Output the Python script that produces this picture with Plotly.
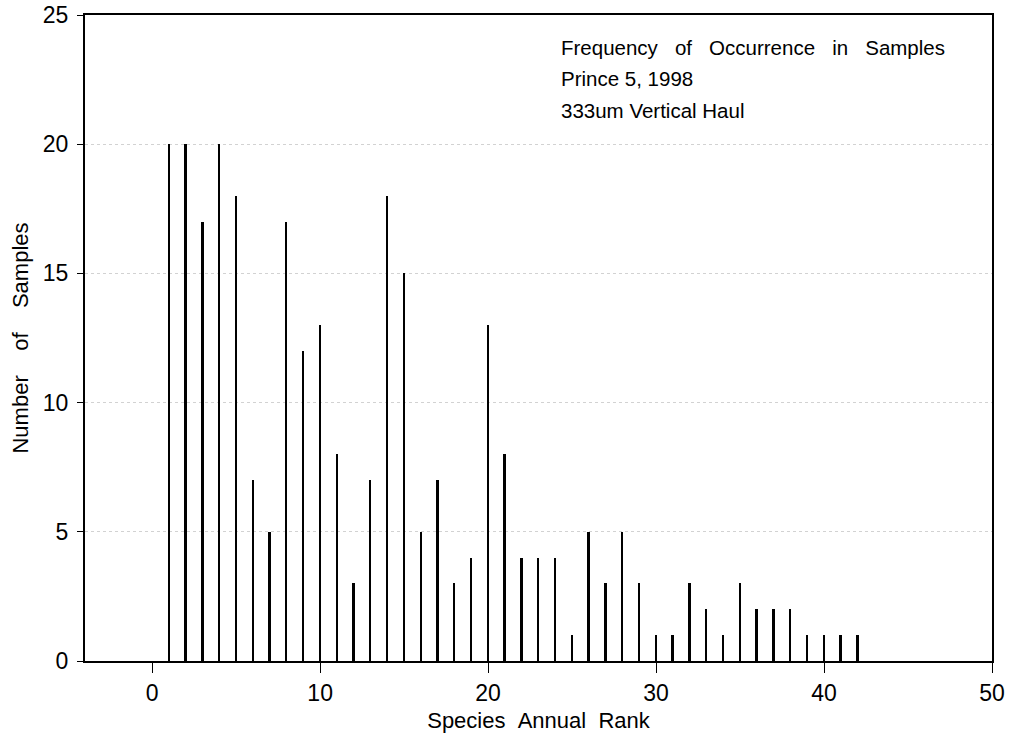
import plotly.graph_objects as go

# Species annual rank and the number of samples each species occurred in
ranks = list(range(1, 43))
samples = [20, 20, 17, 20, 18, 7, 5, 17, 12, 13,
           8, 3, 7, 18, 15, 5, 7, 3, 4, 13,
           8, 4, 4, 4, 1, 5, 3, 5, 3, 1,
           1, 3, 2, 1, 3, 2, 2, 2, 1, 1,
           1, 1]

x_ticks = [0, 10, 20, 30, 40, 50]
y_ticks = [0, 5, 10, 15, 20, 25]

SP = "\u00a0\u00a0\u00a0"
note_lines = [
    SP.join(["Frequency", "of", "Occurrence", "in", "Samples"]),
    "Prince 5, 1998",
    "333um Vertical Haul",
]

FONT = "Liberation Sans, Arial, sans-serif"

fig = go.Figure()
fig.add_trace(go.Bar(
    x=ranks, y=samples, width=0.11,
    marker=dict(color="black", line=dict(width=0)),
    showlegend=False,
))

fig.update_layout(
    width=1009, height=753,
    margin=dict(l=85, r=17, t=15, b=92, autoexpand=False),
    paper_bgcolor="white", plot_bgcolor="white",
    font=dict(family=FONT, size=22, color="black"),
    bargap=0,
    annotations=[
        dict(x=0.523, y=0.95 - i * 0.049, xref="paper", yref="paper",
             xanchor="left", yanchor="middle", showarrow=False,
             text=t, font=dict(family=FONT, size=20.5, color="black"))
        for i, t in enumerate(note_lines)
    ],
)

fig.update_xaxes(
    range=[-4, 50], tickvals=x_ticks, ticks="outside", ticklen=10,
    tickwidth=1, tickcolor="black", showline=True, linecolor="black",
    linewidth=2, mirror=True, showgrid=False, zeroline=False,
    automargin=False, tickfont=dict(size=23),
    title=dict(text="Species\u00a0\u00a0Annual\u00a0\u00a0Rank", font=dict(size=22), standoff=8),
)
fig.update_yaxes(
    range=[0, 25], tickvals=y_ticks, ticks="outside", ticklen=6,
    tickwidth=1, tickcolor="black", showline=True, linecolor="black",
    linewidth=2, mirror=True, showgrid=True, gridcolor="#d2d2d2",
    gridwidth=1, griddash="dot", zeroline=False,
    automargin=False, tickfont=dict(size=23), ticklabelstandoff=4,
    title=dict(text="Number\u00a0\u00a0\u00a0\u00a0of\u00a0\u00a0\u00a0\u00a0Samples",
               font=dict(size=22), standoff=8),
)

fig.write_html("out.html")
